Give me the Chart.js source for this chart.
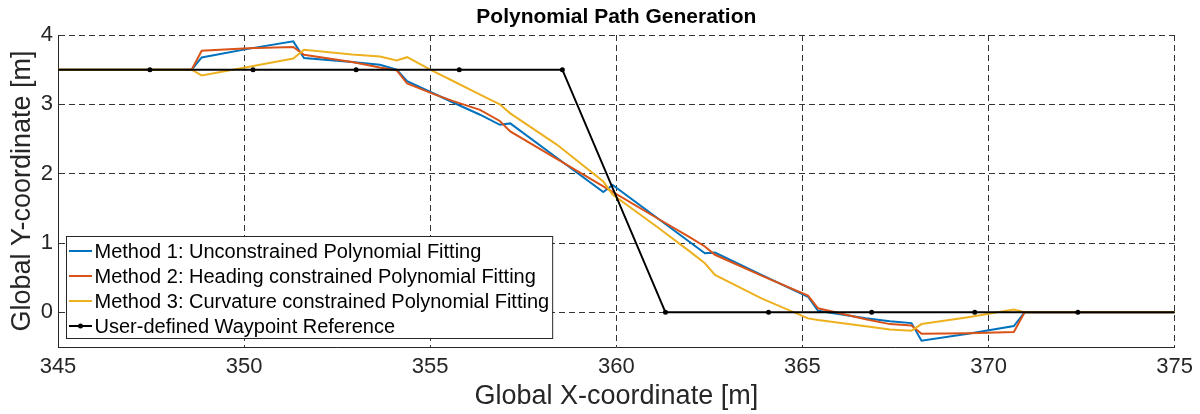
<!DOCTYPE html>
<html>
<head>
<meta charset="utf-8">
<script src="https://cdn.jsdelivr.net/npm/chart.js@4"></script>
<style>
  html, body { margin: 0; padding: 0; background: #fff; }
  canvas { display: block; }
</style>
</head>
<body>
<canvas id="c" width="1200" height="414"></canvas>
<script>
// Waypoints entered by the user
const waypointX = [344.70, 347.47, 350.24, 353.01, 355.78, 358.55, 361.32, 364.09, 366.86, 369.63, 372.40, 375.17];
const waypointY = [3.5, 3.5, 3.5, 3.5, 3.5, 3.5, 0, 0, 0, 0, 0, 0];

// Sample positions along the generated paths
const pathX = [345, 348.59, 348.86, 350.10, 351.32, 351.61, 352.90, 353.65, 354.10, 354.38, 355.08,
               355.60, 356.34, 356.87, 357.15, 358.40, 359.65, 359.90, 361.10, 361.98, 362.38, 362.65,
               363.90, 365.15, 365.42, 366.70, 367.35, 367.93, 368.20, 369.45, 370.68, 370.97, 375];

// Method 1: unconstrained polynomial fitting
const method1Y = [3.5, 3.5, 3.677, 3.80, 3.908, 3.667, 3.61, 3.57, 3.50, 3.335, 3.16,
                  3.03, 2.85, 2.705, 2.725, 2.23, 1.735, 1.838, 1.36, 1.01, 0.852, 0.861,
                  0.54, 0.225, 0.023, -0.085, -0.13, -0.155, -0.41, -0.31, -0.198, 0, 0];

// Method 2: heading constrained polynomial fitting
const method2Y = [3.5, 3.5, 3.773, 3.81, 3.827, 3.716, 3.61, 3.53, 3.49, 3.30, 3.15,
                  3.05, 2.92, 2.76, 2.61, 2.214, 1.817, 1.737, 1.357, 1.08, 0.95, 0.83,
                  0.53, 0.24, 0.058, -0.10, -0.17, -0.19, -0.31, -0.30, -0.285, 0, 0];

// Method 3: curvature constrained polynomial fitting
const method3Y = [3.5, 3.5, 3.417, 3.54, 3.66, 3.788, 3.72, 3.69, 3.633, 3.68, 3.48,
                  3.34, 3.14, 3.0, 2.87, 2.42, 1.886, 1.70, 1.23, 0.875, 0.707, 0.54,
                  0.20, -0.087, -0.11, -0.20, -0.246, -0.265, -0.169, -0.07, 0.04, 0, 0];

const xTicks = [345, 350, 355, 360, 365, 370, 375];
const yTicks = [0, 1, 2, 3, 4];

const seriesNames = [
  'Method 1: Unconstrained Polynomial Fitting',
  'Method 2: Heading constrained Polynomial Fitting',
  'Method 3: Curvature constrained Polynomial Fitting',
  'User-defined Waypoint Reference'
];
const seriesColors = ['#0072BD', '#D95319', '#EDB120', '#000000'];

const FONT = '"Liberation Sans", Arial, Helvetica, sans-serif';
const TEXT = '#262626';

const toPoints = (xs, ys) => xs.map((x, i) => ({ x: x, y: ys[i] }));

// Title and in-axes legend
const decorations = {
  id: 'decorations',
  afterDraw(chart) {
    const ctx = chart.ctx;
    const area = chart.chartArea;
    ctx.save();
    ctx.fillStyle = '#000';
    ctx.font = 'bold 21px ' + FONT;
    ctx.textAlign = 'center';
    ctx.textBaseline = 'middle';
    ctx.fillText('Polynomial Path Generation', (area.left + area.right) / 2, 17);

    ctx.font = '20px ' + FONT;
    let maxW = 0;
    seriesNames.forEach(n => { maxW = Math.max(maxW, ctx.measureText(n).width); });
    const bx = 66, by = 236, rowH = 25;
    const textX = 94.5;
    const bw = textX + maxW + 3 - bx;
    const bh = 102;
    ctx.fillStyle = '#fff';
    ctx.fillRect(bx, by, bw, bh);
    ctx.strokeStyle = TEXT;
    ctx.lineWidth = 1;
    ctx.strokeRect(bx + 0.5, by + 0.5, bw, bh);
    ctx.textAlign = 'left';
    seriesNames.forEach((n, i) => {
      const cy = by + 15 + rowH * i;
      ctx.strokeStyle = seriesColors[i];
      ctx.lineWidth = 2;
      ctx.beginPath();
      ctx.moveTo(69, cy);
      ctx.lineTo(92, cy);
      ctx.stroke();
      if (i === 3) {
        ctx.fillStyle = '#000';
        ctx.beginPath();
        ctx.arc(80.5, cy, 2.5, 0, Math.PI * 2);
        ctx.fill();
      }
      ctx.fillStyle = '#000';
      ctx.fillText(n, textX, cy + 1);
    });
    ctx.restore();
  }
};

new Chart(document.getElementById('c'), {
  type: 'line',
  data: {
    datasets: [
      {
        label: seriesNames[3],
        data: toPoints(waypointX, waypointY),
        borderColor: seriesColors[3],
        backgroundColor: seriesColors[3],
        borderWidth: 2,
        pointRadius: 2.5,
        pointBorderWidth: 0,
        order: 0
      },
      {
        label: seriesNames[2],
        data: toPoints(pathX, method3Y),
        borderColor: seriesColors[2],
        borderWidth: 2,
        pointRadius: 0,
        order: 1
      },
      {
        label: seriesNames[1],
        data: toPoints(pathX, method2Y),
        borderColor: seriesColors[1],
        borderWidth: 2,
        pointRadius: 0,
        order: 2
      },
      {
        label: seriesNames[0],
        data: toPoints(pathX, method1Y),
        borderColor: seriesColors[0],
        borderWidth: 2,
        pointRadius: 0,
        order: 3
      }
    ]
  },
  options: {
    responsive: false,
    animation: false,
    devicePixelRatio: 1,
    layout: { padding: { top: 35, right: 25, left: 0, bottom: 0 } },
    elements: { line: { tension: 0 } },
    plugins: {
      legend: { display: false },
      title: { display: false },
      tooltip: { enabled: false }
    },
    scales: {
      x: {
        type: 'linear',
        min: 345,
        max: 375,
        afterBuildTicks: s => { s.ticks = xTicks.map(v => ({ value: v })); },
        afterFit: s => { s.height = 67; },
        grid: {
          color: '#333333',
          lineWidth: 1,
          drawTicks: false
        },
        border: { display: true, color: TEXT, width: 1, dash: [6, 4] },
        ticks: {
          color: TEXT,
          padding: 7,
          font: { family: FONT, size: 22 },
          maxRotation: 0
        },
        title: {
          display: true,
          text: 'Global X-coordinate [m]',
          color: TEXT,
          font: { family: FONT, size: 27 },
          padding: { top: 0, bottom: 1 }
        }
      },
      y: {
        type: 'linear',
        min: -0.5,
        max: 4,
        afterBuildTicks: s => { s.ticks = yTicks.map(v => ({ value: v })); },
        afterFit: s => { s.width = 58; },
        grid: {
          color: '#333333',
          lineWidth: 1,
          drawTicks: false
        },
        border: { display: true, color: TEXT, width: 1, dash: [6, 4] },
        ticks: {
          color: TEXT,
          padding: 5,
          font: { family: FONT, size: 22 }
        },
        title: {
          display: true,
          text: 'Global Y-coordinate [m]',
          color: TEXT,
          font: { family: FONT, size: 27 },
          padding: { top: 6, bottom: 0 }
        }
      }
    }
  },
  plugins: [decorations]
});
</script>
</body>
</html>
